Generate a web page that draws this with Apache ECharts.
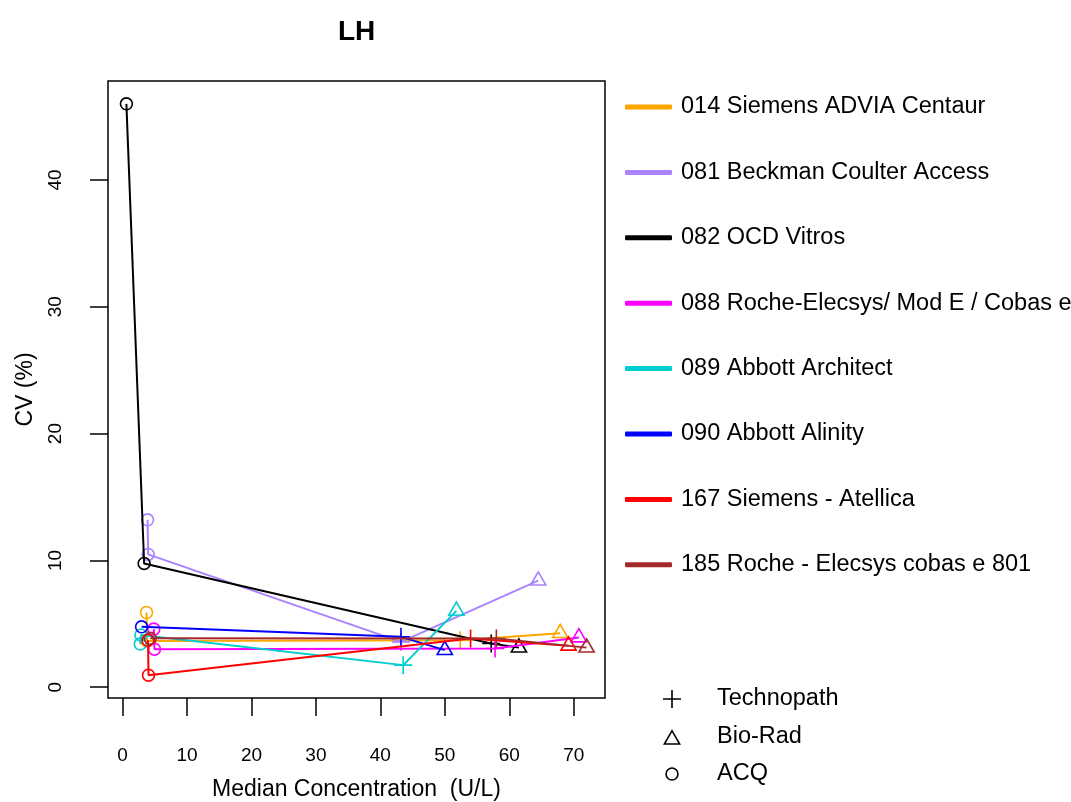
<!DOCTYPE html>
<html>
<head>
<meta charset="utf-8">
<script src="https://cdn.jsdelivr.net/npm/echarts@6/dist/echarts.min.js"></script>
<style>
html,body{margin:0;padding:0;background:#fff;}
#chart{width:1071px;height:802px;}
</style>
</head>
<body>
<div id="chart"></div>
<script>
// ---------------- data ----------------
const methods = [
  '014 Siemens ADVIA Centaur',
  '081 Beckman Coulter Access',
  '082 OCD Vitros',
  '088 Roche-Elecsys/ Mod E / Cobas e',
  '089 Abbott Architect',
  '090 Abbott Alinity',
  '167 Siemens - Atellica',
  '185 Roche - Elecsys cobas e 801'
];
const materials = ['Technopath', 'Bio-Rad', 'ACQ'];
const xTicks = [0, 10, 20, 30, 40, 50, 60, 70];
const yTicks = [0, 10, 20, 30, 40];

// 014 Siemens ADVIA Centaur
const m014X = [3.72, 3.80, 52.4, 67.9];
const m014Y = [5.89, 3.65, 3.70, 4.26];
const m014M = ['ACQ', 'ACQ', 'Technopath', 'Bio-Rad'];
// 081 Beckman Coulter Access
const m081X = [3.88, 3.98, 43.2, 64.5];
const m081Y = [13.2, 10.47, 3.57, 8.40];
const m081M = ['ACQ', 'ACQ', 'Technopath', 'Bio-Rad'];
// 082 OCD Vitros
const m082X = [0.6, 3.35, 57.2, 61.5];
const m082Y = [46.0, 9.76, 3.45, 3.12];
const m082M = ['ACQ', 'ACQ', 'Technopath', 'Bio-Rad'];
// 088 Roche-Elecsys/ Mod E / Cobas e
const m088X = [4.85, 4.95, 57.8, 70.8];
const m088Y = [4.58, 3.00, 3.05, 3.92];
const m088M = ['ACQ', 'ACQ', 'Technopath', 'Bio-Rad'];
// 089 Abbott Architect
const m089X = [2.75, 2.85, 43.55, 51.8];
const m089Y = [3.40, 4.12, 1.74, 6.02];
const m089M = ['ACQ', 'ACQ', 'Technopath', 'Bio-Rad'];
// 090 Abbott Alinity
const m090X = [2.95, 43.2, 50.0];
const m090Y = [4.76, 3.97, 2.92];
const m090M = ['ACQ', 'Technopath', 'Bio-Rad'];
// 167 Siemens - Atellica
const m167X = [3.95, 4.03, 54.0, 69.2];
const m167Y = [3.70, 0.95, 3.84, 3.27];
const m167M = ['ACQ', 'ACQ', 'Technopath', 'Bio-Rad'];
// 185 Roche - Elecsys cobas e 801
const m185X = [4.3, 58.0, 72.0];
const m185Y = [3.85, 3.84, 3.12];
const m185M = ['ACQ', 'Technopath', 'Bio-Rad'];

const seriesX = [m014X, m081X, m082X, m088X, m089X, m090X, m167X, m185X];
const seriesY = [m014Y, m081Y, m082Y, m088Y, m089Y, m090Y, m167Y, m185Y];
const seriesM = [m014M, m081M, m082M, m088M, m089M, m090M, m167M, m185M];

// ---------------- styles ----------------
const methodColors = ['#FFA500', '#AB82FF', '#000000', '#FF00FF', '#00CDCD', '#0000FF', '#FF0000', '#A52A2A'];
const FONT = "'Liberation Sans', Arial, sans-serif";

const plusPath = 'path://M9.1,0 L10.9,0 L10.9,20 L9.1,20 Z M0,9.1 L20,9.1 L20,10.9 L0,10.9 Z';
const triPath = 'path://M10,0 L20,17.32 L0,17.32 Z M10,3.5 L3.1,15.5 L16.9,15.5 Z';
const circPath = 'path://M10,0 A10,10 0 0,1 20,10 A10,10 0 0,1 10,20 A10,10 0 0,1 0,10 A10,10 0 0,1 10,0 Z ' +
                 'M10,2.4 A7.6,7.6 0 0,0 2.4,10 A7.6,7.6 0 0,0 10,17.6 A7.6,7.6 0 0,0 17.6,10 A7.6,7.6 0 0,0 10,2.4 Z';
const shapeOf = {
  'Technopath': {symbol: plusPath, size: [18, 18], offset: [0, 0]},
  'Bio-Rad':    {symbol: triPath,  size: [18, 15.6], offset: [0, -2.6]},
  'ACQ':        {symbol: circPath, size: [13.5, 13.5], offset: [0, 0]}
};

// R-style axis extension (4%)
const allX = [].concat(...seriesX), allY = [].concat(...seriesY);
const xr = [Math.min(...allX), Math.max(...allX)];
const yr = [Math.min(...allY), Math.max(...allY)];
const xMin = xr[0] - 0.04 * (xr[1] - xr[0]), xMax = xr[1] + 0.04 * (xr[1] - xr[0]);
const yMin = yr[0] - 0.04 * (yr[1] - yr[0]), yMax = yr[1] + 0.04 * (yr[1] - yr[0]);

const series = methods.map((name, i) => ({
  type: 'line',
  name: name,
  data: seriesX[i].map((x, j) => {
    const s = shapeOf[seriesM[i][j]];
    return {value: [x, seriesY[i][j]], symbol: s.symbol, symbolSize: s.size, symbolOffset: s.offset};
  }),
  showSymbol: true,
  showAllSymbol: true,
  symbolKeepAspect: false,
  lineStyle: {color: methodColors[i], width: 2},
  itemStyle: {color: methodColors[i], borderWidth: 0},
  emphasis: {disabled: true},
  animation: false,
  z: 2 + i
}));
materials.forEach(m => {
  series.push({
    type: 'line', name: m, data: [],
    lineStyle: {color: '#000'}, itemStyle: {color: '#000', borderWidth: 0},
    animation: false
  });
});

const legendText = {fontSize: 23.5, color: '#000', fontFamily: FONT, lineHeight: 24};
function matLegend(name, icon, w, h, top) {
  const left = 672 - w / 2 - 5;
  const pad = 717 - (left + 5 + w + 5);
  return {
    data: [{name: name, icon: icon}],
    orient: 'vertical', left: left, top: top, itemWidth: w, itemHeight: h,
    selectedMode: false, textStyle: Object.assign({padding: [0, 0, 0, pad]}, legendText)
  };
}

const option = {
  backgroundColor: '#fff',
  animation: false,
  title: {
    text: 'LH', left: 333, top: 13,
    textStyle: {fontSize: 28, fontWeight: 'bold', color: '#000', fontFamily: FONT}
  },
  grid: {
    left: 108, right: 466, top: 81, bottom: 104,
    show: true, borderColor: '#000', borderWidth: 1.5, backgroundColor: 'transparent',
    containLabel: false, outerBoundsMode: 'none'
  },
  xAxis: {
    type: 'value', min: xMin, max: xMax,
    axisLine: {show: false, onZero: false}, splitLine: {show: false},
    axisTick: {show: true, inside: false, length: 18, lineStyle: {color: '#000', width: 1.5}, customValues: xTicks},
    axisLabel: {customValues: xTicks, margin: 48, fontSize: 19, color: '#000', fontFamily: FONT},
    name: 'Median Concentration  (U/L)', nameLocation: 'middle', nameGap: 80,
    nameTextStyle: {fontSize: 23, color: '#000', fontFamily: FONT}
  },
  yAxis: {
    type: 'value', min: yMin, max: yMax,
    axisLine: {show: false, onZero: false}, splitLine: {show: false},
    axisTick: {show: true, inside: false, length: 18, lineStyle: {color: '#000', width: 1.5}, customValues: yTicks},
    axisLabel: {customValues: yTicks, rotate: 90, margin: 43, fontSize: 19, color: '#000', fontFamily: FONT},
    name: 'CV (%)', nameLocation: 'middle', nameGap: 71,
    nameTextStyle: {fontSize: 23, color: '#000', fontFamily: FONT}
  },
  legend: [
    {
      data: methods.map(n => ({name: n, icon: 'roundRect'})),
      orient: 'vertical', left: 620, top: 90,
      itemWidth: 47, itemHeight: 5, itemGap: 41.4,
      selectedMode: false, textStyle: Object.assign({padding: [0, 0, 0, 4]}, legendText)
    },
    matLegend('Technopath', plusPath, 18, 18, 682),
    matLegend('Bio-Rad', triPath, 18, 15.6, 720),
    matLegend('ACQ', circPath, 13.5, 13.5, 757)
  ],
  series: series
};

const chart = echarts.init(document.getElementById('chart'), null, {renderer: 'canvas'});
chart.setOption(option);
</script>
</body>
</html>
